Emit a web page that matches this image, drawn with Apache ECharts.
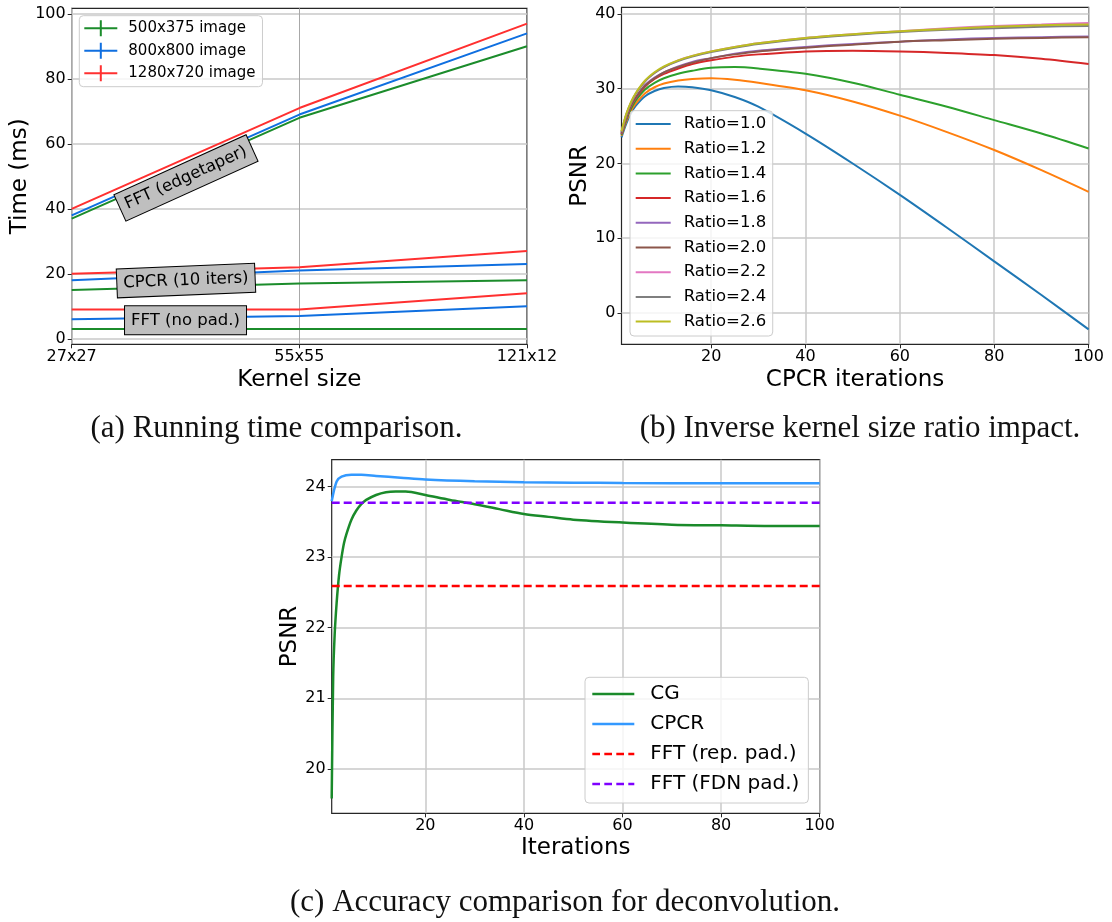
<!DOCTYPE html>
<html><head><meta charset="utf-8">
<script src="https://cdn.jsdelivr.net/npm/echarts@6/dist/echarts.min.js"></script>
<style>html,body{margin:0;padding:0;background:#fff}#c{width:1112px;height:922px}</style>
</head><body><div id="c"></div>
<script>
// ---------- (a) Running time ----------
const kernelSizes = ['27x27', '55x55', '121x12'];
const imageSizes = ['500x375 image', '800x800 image', '1280x720 image'];
const edgeGreen = [37, 68, 90];
const edgeBlue  = [38, 69, 94];
const edgeRed   = [40, 71, 97];
const cpcrGreen = [15, 17, 18];
const cpcrBlue  = [18, 21, 23];
const cpcrRed   = [20, 22, 27];
const noPadGreen = [3, 3, 3];
const noPadBlue  = [6, 7, 10];
const noPadRed   = [9, 9, 14];
const annotationTexts = ['FFT (edgetaper)', 'CPCR (10 iters)', 'FFT (no pad.)'];
const timeTicks = [0, 20, 40, 60, 80, 100];

// ---------- (b) Ratio impact ----------
const ratioNames = ['Ratio=1.0','Ratio=1.2','Ratio=1.4','Ratio=1.6','Ratio=1.8','Ratio=2.0','Ratio=2.2','Ratio=2.4','Ratio=2.6'];
const iterB = [1, 2, 3, 4, 6, 8, 10, 13, 16, 20, 25, 30, 40, 50, 60, 70, 80, 90, 100];
const ratio10 = [23.5, 25.3, 26.7, 27.7, 29.0, 29.7, 30.1, 30.3, 30.2, 29.8, 28.9, 27.6, 24.0, 20.0, 15.8, 11.4, 6.9, 2.4, -2.2];
const ratio12 = [23.7, 25.6, 27.0, 28.0, 29.4, 30.2, 30.7, 31.1, 31.3, 31.4, 31.2, 30.8, 29.8, 28.3, 26.4, 24.2, 21.8, 19.1, 16.2];
const ratio14 = [23.8, 25.8, 27.3, 28.4, 29.9, 30.8, 31.4, 32.0, 32.4, 32.8, 32.9, 32.7, 32.0, 30.8, 29.2, 27.6, 25.8, 24.0, 22.0];
const ratio16 = [23.9, 26.0, 27.6, 28.7, 30.3, 31.3, 32.0, 32.7, 33.3, 33.8, 34.3, 34.6, 35.0, 35.1, 35.0, 34.8, 34.5, 34.0, 33.3];
const ratio18 = [24.0, 26.1, 27.7, 28.8, 30.5, 31.5, 32.2, 33.0, 33.6, 34.1, 34.7, 35.1, 35.6, 36.0, 36.3, 36.6, 36.8, 36.9, 37.0];
const ratio20 = [24.0, 26.1, 27.7, 28.8, 30.4, 31.4, 32.2, 32.9, 33.5, 34.1, 34.6, 35.0, 35.5, 35.9, 36.3, 36.5, 36.7, 36.8, 36.9];
const ratio22 = [24.2, 26.5, 28.1, 29.3, 31.0, 32.1, 32.9, 33.8, 34.4, 35.0, 35.6, 36.1, 36.8, 37.3, 37.7, 38.1, 38.4, 38.6, 38.8];
const ratio24 = [24.2, 26.5, 28.1, 29.3, 31.0, 32.1, 32.9, 33.7, 34.3, 34.9, 35.5, 36.0, 36.7, 37.2, 37.6, 37.9, 38.1, 38.3, 38.4];
const ratio26 = [24.3, 26.6, 28.2, 29.4, 31.1, 32.2, 33.0, 33.8, 34.4, 35.0, 35.6, 36.1, 36.8, 37.3, 37.7, 38.0, 38.3, 38.5, 38.6];
const iterTicksB = [20, 40, 60, 80, 100];
const psnrTicksB = [0, 10, 20, 30, 40];

// ---------- (c) Accuracy ----------
const methodNames = ['CG', 'CPCR', 'FFT (rep. pad.)', 'FFT (FDN pad.)'];
const iterCG = [1, 1.3, 1.6, 2, 2.5, 3, 3.5, 4, 5, 6, 7, 8, 10, 12, 14, 16, 20, 25, 30, 35, 40, 45, 50, 60, 70, 80, 90, 100];
const psnrCG = [19.58, 21.3, 21.9, 22.35, 22.75, 23.0, 23.2, 23.33, 23.53, 23.66, 23.75, 23.81, 23.88, 23.92, 23.93, 23.93, 23.88, 23.81, 23.75, 23.68, 23.61, 23.57, 23.53, 23.49, 23.46, 23.45, 23.44, 23.44];
const iterCPCR = [1, 2, 3, 5, 7, 10, 15, 20, 30, 40, 50, 60, 80, 100];
const psnrCPCR = [23.79, 24.07, 24.14, 24.165, 24.165, 24.15, 24.125, 24.10, 24.075, 24.06, 24.055, 24.05, 24.045, 24.045];
const iterEnds = [1, 100];
const psnrFFTRep = 22.59;
const psnrFFTFDN = 23.77;
const iterTicksC = [20, 40, 60, 80, 100];
const psnrTicksC = [20, 21, 22, 23, 24];

const captions = ['(a) Running time comparison.', '(b) Inverse kernel size ratio impact.', '(c) Accuracy comparison for deconvolution.'];

// ---------- styles ----------
const FONT = 'DejaVu Sans';
const ink = '#000';
const frame = '#262626';
const gridCol = '#c8c8c8';
const cG = '#1b8c2b', cB = '#0f6fe0', cR = '#ff3030';
const tab10 = ['#1f77b4','#ff7f0e','#2ca02c','#d62728','#9467bd','#8c564b','#e377c2','#7f7f7f','#bcbd22'];
const solidIconB = 'path://M0 0 H35 V2 H0 Z';
const solidIconC = 'path://M0 0 H42 V2.5 H0 Z';
const dashIconC = 'path://M0 0 H7.7 V2.5 H0 Z M12 0 H19.7 V2.5 H12 Z M24 0 H31.7 V2.5 H24 Z M36 0 H42 V2.5 H36 Z';
const crossIconA = 'path://M0 7 H33 V9 H0 Z M15.5 0 H17.5 V16 H15.5 Z';

function valueAxis(o) {
  return Object.assign({
    type: 'value',
    axisLine: { show: false, onZero: false },
    splitLine: { show: true, lineStyle: { color: gridCol, width: 1.5 } },
    nameLocation: 'middle',
    nameTextStyle: { color: ink, fontFamily: FONT, fontSize: 23 }
  }, o);
}
function ticks(vals) {
  return { show: true, length: 4, lineStyle: { color: frame, width: 1 }, customValues: vals };
}
function labels(vals, margin) {
  return { color: ink, fontFamily: FONT, fontSize: 16, margin: margin, customValues: vals };
}

const chart = echarts.init(document.getElementById('c'), null, { renderer: 'canvas' });

const seriesA = [];
const groupsA = [[edgeGreen, edgeBlue, edgeRed], [cpcrGreen, cpcrBlue, cpcrRed], [noPadGreen, noPadBlue, noPadRed]];
const colsA = [cG, cB, cR];
groupsA.forEach(g => g.forEach((vals, k) => {
  seriesA.push({
    type: 'line', name: imageSizes[k], xAxisIndex: 0, yAxisIndex: 0,
    data: vals, showSymbol: false, symbol: 'none',
    lineStyle: { color: colsA[k], width: 2 }, itemStyle: { color: colsA[k] },
    animation: false, z: 3
  });
}));

const ratioVals = [ratio10, ratio12, ratio14, ratio16, ratio18, ratio20, ratio22, ratio24, ratio26];
const seriesB = ratioVals.map((vals, i) => ({
  type: 'line', name: ratioNames[i], xAxisIndex: 1, yAxisIndex: 1,
  data: iterB.map((x, j) => [x, vals[j]]), showSymbol: false, symbol: 'none',
  smooth: 0.3, lineStyle: { color: tab10[i], width: 2 }, itemStyle: { color: tab10[i] },
  animation: false, z: 3
}));

const colsC = ['#1a8a2a', '#3399ff', '#ff0000', '#7f00ff'];
const seriesC = [
  { type: 'line', name: methodNames[0], xAxisIndex: 2, yAxisIndex: 2, data: iterCG.map((x, j) => [x, psnrCG[j]]),
    showSymbol: false, symbol: 'none', smooth: 0.3, lineStyle: { color: colsC[0], width: 2.5 }, itemStyle: { color: colsC[0] }, animation: false, z: 3 },
  { type: 'line', name: methodNames[1], xAxisIndex: 2, yAxisIndex: 2, data: iterCPCR.map((x, j) => [x, psnrCPCR[j]]),
    showSymbol: false, symbol: 'none', smooth: 0.3, lineStyle: { color: colsC[1], width: 2.5 }, itemStyle: { color: colsC[1] }, animation: false, z: 3 },
  { type: 'line', name: methodNames[2], xAxisIndex: 2, yAxisIndex: 2, data: iterEnds.map(x => [x, psnrFFTRep]),
    showSymbol: false, symbol: 'none', lineStyle: { color: colsC[2], width: 2.5, type: [8, 4] }, itemStyle: { color: colsC[2] }, animation: false, z: 3 },
  { type: 'line', name: methodNames[3], xAxisIndex: 2, yAxisIndex: 2, data: iterEnds.map(x => [x, psnrFFTFDN]),
    showSymbol: false, symbol: 'none', lineStyle: { color: colsC[3], width: 2.5, type: [8, 4] }, itemStyle: { color: colsC[3] }, animation: false, z: 3 }
];

const legendBase = {
  orient: 'vertical', backgroundColor: 'rgba(255,255,255,0.8)', borderColor: '#cccccc', borderWidth: 1,
  borderRadius: 4, selectedMode: false, align: 'left'
};

const option = {
  animation: false,
  backgroundColor: '#fff',
  grid: [
    { left: 71.7, top: 8.3, width: 455.3, height: 336, show: true, borderColor: frame, borderWidth: 1.2, backgroundColor: 'transparent', containLabel: false, outerBoundsMode: 'none' },
    { left: 621.5, top: 7.3, width: 467.1, height: 337, show: true, borderColor: frame, borderWidth: 1.2, backgroundColor: 'transparent', containLabel: false, outerBoundsMode: 'none' },
    { left: 331.7, top: 459.7, width: 488, height: 353.6, show: true, borderColor: frame, borderWidth: 1.2, backgroundColor: 'transparent', containLabel: false, outerBoundsMode: 'none' }
  ],
  xAxis: [
    { type: 'category', gridIndex: 0, data: kernelSizes, boundaryGap: false,
      name: 'Kernel size', nameLocation: 'middle', nameGap: 24, nameTextStyle: { color: ink, fontFamily: FONT, fontSize: 23 },
      axisLine: { show: false, onZero: false },
      axisTick: { show: true, length: 4, lineStyle: { color: frame } },
      axisLabel: { color: ink, fontFamily: FONT, fontSize: 16, margin: 5, interval: 0 },
      splitLine: { show: true, lineStyle: { color: '#a8a8a8', width: 1 } } },
    valueAxis({ gridIndex: 1, min: 1, max: 100, name: 'CPCR iterations', nameGap: 24,
      axisLabel: labels(iterTicksB, 5), axisTick: ticks(iterTicksB) }),
    valueAxis({ gridIndex: 2, min: 1, max: 100, name: 'Iterations', nameGap: 23,
      axisLabel: labels(iterTicksC, 5), axisTick: ticks(iterTicksC) })
  ],
  yAxis: [
    valueAxis({ gridIndex: 0, min: -1.7, max: 101.7, name: 'Time (ms)', nameGap: 32,
      axisLabel: labels(timeTicks, 6), axisTick: ticks(timeTicks) }),
    valueAxis({ gridIndex: 1, min: -4.2, max: 40.9, name: 'PSNR', nameGap: 28,
      axisLabel: labels(psnrTicksB, 6), axisTick: ticks(psnrTicksB) }),
    valueAxis({ gridIndex: 2, min: 19.37, max: 24.38, name: 'PSNR', nameGap: 30,
      axisLabel: labels(psnrTicksC, 6), axisTick: ticks(psnrTicksC) })
  ],
  legend: [
    Object.assign({}, legendBase, {
      data: imageSizes.map(n => ({ name: n, icon: crossIconA })), left: 79.3, top: 15.7, padding: [4, 7, 5, 5],
      itemWidth: 33, itemHeight: 16, itemGap: 5.5,
      textStyle: { color: ink, fontFamily: FONT, fontSize: 15, lineHeight: 17, padding: [0, 0, 0, 6] }
    }),
    Object.assign({}, legendBase, {
      data: ratioNames.map(n => ({ name: n, icon: solidIconB })), left: 630, top: 110.7, padding: [4.3, 6.6, 5.4, 5.7],
      itemWidth: 35, itemHeight: 2, itemGap: 6.7,
      textStyle: { color: ink, fontFamily: FONT, fontSize: 16.5, lineHeight: 18, padding: [0, 0, 0, 8] }
    }),
    Object.assign({}, legendBase, {
      data: methodNames.map((n, i) => ({ name: n, icon: i < 2 ? solidIconC : dashIconC })), left: 585, top: 677.3, padding: [5.7, 9, 8, 7.3],
      itemWidth: 42, itemHeight: 2.5, itemGap: 8,
      textStyle: { color: ink, fontFamily: FONT, fontSize: 20, lineHeight: 22, padding: [0, 0, 0, 11] }
    })
  ],
  series: seriesA.concat(seriesB, seriesC)
};
chart.setOption(option);

// annotations (a) placed via the chart's own coordinate conversion
function ptA(xIdx, y) {
  const p0 = chart.convertToPixel({ xAxisIndex: 0, yAxisIndex: 0 }, [0, y]);
  const p1 = chart.convertToPixel({ xAxisIndex: 0, yAxisIndex: 0 }, [1, y]);
  return [p0[0] + (p1[0] - p0[0]) * xIdx, p0[1]];
}
const annAnchors = [[0.502, 49.5, 24.4], [0.502, 17.9, 2.3], [0.5, 5.7, 0]];
const graphics = annotationTexts.map((t, i) => {
  const p = ptA(annAnchors[i][0], annAnchors[i][1]);
  return {
    type: 'text', x: p[0], y: p[1], rotation: annAnchors[i][2] * Math.PI / 180, z: 100,
    style: { text: t, font: '16.5px "DejaVu Sans"', fill: ink, align: 'center', verticalAlign: 'middle',
      backgroundColor: '#bfbfbf', borderColor: '#000', borderWidth: 1, padding: [6, 6, 5, 6] }
  };
});
const capPos = [[276.5, 429], [860, 429], [565, 903]];
captions.forEach((t, i) => {
  graphics.push({
    type: 'text', x: capPos[i][0], y: capPos[i][1], z: 100,
    style: { text: t, font: '31px "Liberation Serif"', fill: '#111', align: 'center', verticalAlign: 'middle' }
  });
});
chart.setOption({ graphic: graphics });
</script></body></html>
